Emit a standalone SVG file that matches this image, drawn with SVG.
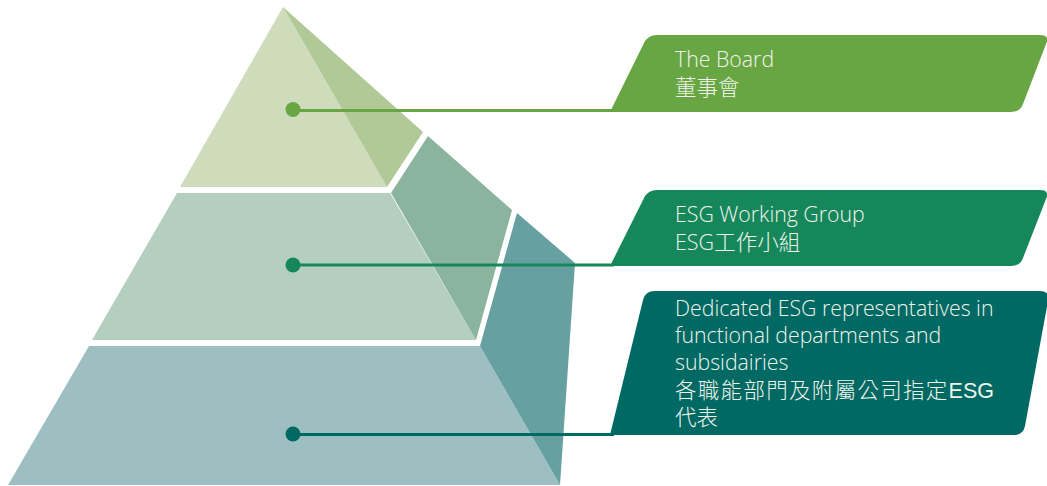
<svg xmlns="http://www.w3.org/2000/svg" width="1047" height="486" viewBox="0 0 1047 486">
<style>
.lbl{font-family:"Open Sans","Noto Sans CJK TC",sans-serif;font-size:21.3px;font-weight:300;fill:#f0f5ec}
.cjk{font-family:"Open Sans","Noto Sans CJK TC",sans-serif;font-size:21.5px;font-weight:300;fill:#f0f5ec}
.ln{stroke-width:3;fill:none}
</style>
<rect width="1047" height="486" fill="#ffffff"/>
<g id="tier-top">
<polygon points="283,7 180,187 387,187" fill="#cfdcbc"/>
<polygon points="283,7 423,132 387,187" fill="#b1c996"/>
</g>
<g id="tier-middle">
<polygon points="177,193 390,193 476,340 92,340" fill="#b4cfbf"/>
<polygon points="428,136 512,210 476,340 391,193" fill="#8ab49d"/>
</g>
<g id="tier-bottom">
<polygon points="89,346 480,346 560,485 8,485" fill="#9dbfc1"/>
<polygon points="517,213 575,263 560,485 480,346" fill="#66a0a0"/>
</g>
<g id="connectors">
<line class="ln" x1="293" y1="110.5" x2="614" y2="110.5" stroke="#68a543"/>
<line class="ln" x1="293" y1="265" x2="614" y2="265" stroke="#16875b"/>
<line class="ln" x1="293" y1="434.5" x2="614" y2="434.5" stroke="#006963"/>
<circle cx="293" cy="109.5" r="7.5" fill="#68a543"/>
<circle cx="293" cy="265" r="7.5" fill="#16875b"/>
<circle cx="293" cy="434" r="7.5" fill="#006963"/>
</g>
<g id="label-board">
<path d="M610,112 L644,43 Q648,35 657,35 L1040,35 Q1050,35 1046,44 L1023,104 Q1020,112 1011,112 Z" fill="#68a543"/>
<text class="lbl" x="675" y="67">The Board</text>
<text class="cjk" x="675" y="95">董事會</text>
</g>
<g id="label-working-group">
<path d="M610,266 L644,198 Q648,190 657,190 L1040,190 Q1050,190 1046,199 L1023,258 Q1020,266 1011,266 Z" fill="#16875b"/>
<text class="lbl" x="675" y="222">ESG Working Group</text>
<text class="cjk" x="675" y="250">ESG工作小組</text>
</g>
<g id="label-representatives">
<path d="M610,435 L643,300 Q645,291 655,291 L1040,291 Q1050,291 1048,301 L1025,426 Q1023,435 1014,435 Z" fill="#006963"/>
<text class="lbl" x="675" y="316">Dedicated ESG representatives in</text>
<text class="lbl" x="675" y="343">functional departments and</text>
<text class="lbl" x="675" y="370">subsidairies</text>
<text class="cjk" x="675" y="398"><tspan letter-spacing="1.3">各職能部門及附屬公司指定</tspan><tspan font-family="'Liberation Sans',sans-serif">ESG</tspan></text>
<text class="cjk" x="675" y="425">代表</text>
</g>
</svg>
